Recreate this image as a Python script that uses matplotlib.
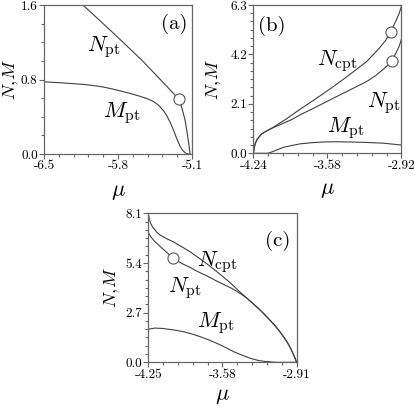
import matplotlib
matplotlib.use('Agg')
import matplotlib.pyplot as plt
from matplotlib.ticker import FixedLocator, FixedFormatter, AutoMinorLocator

plt.rcParams['font.family'] = 'cmr10'
plt.rcParams['mathtext.fontset'] = 'cm'
plt.rcParams['axes.unicode_minus'] = False

# ---------------- data ----------------
# panel (a)
a_xticks = [-6.5, -5.8, -5.1]
a_yticks = [0.0, 0.8, 1.6]
a_N_mu = [-6.20, -6.131, -5.85, -5.576, -5.40, -5.223, -5.20, -5.18, -5.166, -5.15,
          -5.138, -5.128, -5.122, -5.118]
a_N = [1.673, 1.60, 1.305, 1.01, 0.80, 0.588, 0.51, 0.43, 0.365, 0.26,
       0.17, 0.09, 0.04, 0.0]
a_M_mu = [-6.5, -6.3, -6.1, -5.95, -5.86, -5.78, -5.70, -5.592, -5.52, -5.466,
          -5.42, -5.371, -5.34, -5.308, -5.285, -5.261, -5.235, -5.213, -5.19, -5.166,
          -5.15, -5.135, -5.118]
a_M = [0.775, 0.762, 0.745, 0.722, 0.70, 0.678, 0.655, 0.62, 0.593, 0.565,
       0.528, 0.468, 0.415, 0.345, 0.285, 0.215, 0.14, 0.085, 0.042, 0.015,
       0.005, 0.0, 0.0]
a_circ_mu = [-5.223]
a_circ = [0.588]

# panel (b)
b_xticks = [-4.24, -3.58, -2.92]
b_yticks = [0.0, 2.1, 4.2, 6.3]
b_Ncpt_mu = [-4.24, -4.235, -4.225, -4.21, -4.19, -4.167, -4.12, -4.078, -3.95, -3.825,
             -3.68, -3.528, -3.38, -3.23, -3.12, -3.06, -3.016, -2.97, -2.94, -2.92]
b_Ncpt = [0.0, 0.2, 0.4, 0.57, 0.70, 0.82, 0.96, 1.06, 1.45, 1.87,
          2.33, 2.83, 3.35, 3.90, 4.45, 4.80, 5.17, 5.62, 5.95, 6.25]
b_Npt_mu = [-4.24, -4.235, -4.225, -4.21, -4.19, -4.167, -4.12, -4.078, -4.0, -3.9,
            -3.825, -3.68, -3.528, -3.38, -3.23, -3.15, -3.08, -3.04, -3.007, -2.97,
            -2.94, -2.92]
b_Npt = [0.0, 0.2, 0.4, 0.57, 0.70, 0.82, 0.96, 1.06, 1.22, 1.43,
         1.63, 1.97, 2.34, 2.69, 3.05, 3.30, 3.58, 3.75, 3.93, 4.25,
         4.55, 4.85]
b_M_mu = [-4.24, -4.11, -4.08, -4.04, -3.97, -3.9, -3.825, -3.72, -3.617, -3.5,
          -3.379, -3.23, -3.082, -2.92]
b_M = [0.0, 0.0, 0.05, 0.13, 0.255, 0.33, 0.40, 0.45, 0.48, 0.49,
       0.48, 0.46, 0.43, 0.35]
b_circ_mu = [-3.016, -3.007]
b_circ = [5.17, 3.93]

# panel (c)
c_xticks = [-4.25, -3.58, -2.91]
c_yticks = [0.0, 2.7, 5.4, 8.1]
c_Ncpt_mu = [-4.25, -4.24, -4.225, -4.205, -4.17, -4.144, -4.084, -4.024, -3.95, -3.873,
             -3.80, -3.722, -3.65, -3.572, -3.50, -3.452, -3.40, -3.36, -3.33, -3.25,
             -3.2, -3.14, -3.1, -3.06, -3.03, -3.0, -2.98, -2.96, -2.945, -2.93,
             -2.92, -2.91]
c_Ncpt = [8.1, 7.75, 7.5, 7.3, 7.06, 6.92, 6.72, 6.55, 6.29, 6.01,
          5.70, 5.36, 5.02, 4.64, 4.27, 3.99, 3.70, 3.49, 3.33, 2.90,
          2.60, 2.22, 1.95, 1.65, 1.40, 1.13, 0.93, 0.70, 0.50, 0.30,
          0.15, 0.0]
c_Npt_mu = [-4.25, -4.23, -4.2, -4.144, -4.084, -4.024, -3.95, -3.873, -3.80, -3.722,
            -3.65, -3.572, -3.50, -3.452, -3.40, -3.36, -3.33, -3.25,
            -3.2, -3.14, -3.1, -3.06, -3.03, -3.0, -2.98, -2.96, -2.945, -2.93,
            -2.92, -2.91]
c_Npt = [7.05, 6.85, 6.62, 6.30, 5.98, 5.65, 5.38, 5.16, 4.92, 4.70,
         4.47, 4.24, 4.03, 3.86, 3.66, 3.49, 3.33, 2.90,
         2.60, 2.22, 1.95, 1.65, 1.40, 1.13, 0.93, 0.70, 0.50, 0.30,
         0.15, 0.0]
c_M_mu = [-4.25, -4.19, -4.12, -4.0, -3.93, -3.85, -3.78, -3.70, -3.63, -3.55,
          -3.48, -3.40, -3.33, -3.25, -3.2, -3.1, -2.91]
c_M = [1.80, 1.86, 1.84, 1.74, 1.66, 1.53, 1.39, 1.21, 1.03, 0.80,
       0.58, 0.38, 0.22, 0.09, 0.05, 0.0, 0.0]
c_circ_mu = [-4.024]
c_circ = [5.65]

# ---------------- drawing ----------------
LC = '#404040'
SC = '#666666'

fig = plt.figure(figsize=(4.15, 4.08), dpi=100)


def style(ax, xt, yt, xminor, yminor, ylabel_x, xlabel_y):
    ax.set_xlim(xt[0], xt[-1])
    ax.set_ylim(yt[0], yt[-1])
    ax.xaxis.set_major_locator(FixedLocator(xt))
    ax.xaxis.set_major_formatter(FixedFormatter(['%g' % v if abs(v * 10 - round(v * 10)) > 1e-9 else '%.1f' % v for v in xt]))
    ax.yaxis.set_major_locator(FixedLocator(yt))
    ax.yaxis.set_major_formatter(FixedFormatter(['%.1f' % v for v in yt]))
    ax.xaxis.set_minor_locator(AutoMinorLocator(xminor))
    ax.yaxis.set_minor_locator(AutoMinorLocator(yminor))
    ax.tick_params(which='both', direction='out', color=SC, width=0.8,
                   labelsize=9.5, pad=1.0, top=False, right=False)
    ax.tick_params(which='major', length=3.5)
    ax.tick_params(which='minor', length=2.0)
    for s in ax.spines.values():
        s.set_color(SC)
        s.set_linewidth(0.9)
    ax.set_ylabel(r'$N,\!M$', fontsize=13)
    ax.set_xlabel(r'$\mu$', fontsize=16)
    ax.yaxis.set_label_coords(ylabel_x, 0.5)
    ax.xaxis.set_label_coords(0.5, xlabel_y)


def circ(ax, x, y):
    ax.plot(x, y, 'o', ms=8, mfc='white', mec='#555555', mew=0.8, zorder=5, clip_on=False)


# panel (a)
axa = fig.add_axes([0.106, 0.6225, 0.3566, 0.3652])
axa.plot(a_N_mu, a_N, color=LC, lw=0.8)
axa.plot(a_M_mu, a_M, color=LC, lw=0.8)
circ(axa, a_circ_mu, a_circ)
style(axa, a_xticks, a_yticks, 5, 4, -0.155, -0.19)
axa.text(0.878, 0.872, '(a)', transform=axa.transAxes, fontsize=15, ha='center', va='center')
axa.text(0.29, 0.718, r'$N_{\rm pt}$', transform=axa.transAxes, fontsize=16, ha='left', va='center')
axa.text(0.40, 0.275, r'$M_{\rm pt}$', transform=axa.transAxes, fontsize=16, ha='left', va='center')

# panel (b)
axb = fig.add_axes([0.6108, 0.6243, 0.3566, 0.3635])
axb.plot(b_Ncpt_mu, b_Ncpt, color=LC, lw=0.8)
axb.plot(b_Npt_mu, b_Npt, color=LC, lw=0.8)
axb.plot(b_M_mu, b_M, color=LC, lw=0.8)
circ(axb, b_circ_mu, b_circ)
style(axb, b_xticks, b_yticks, 5, 6, -0.2, -0.185)
axb.text(0.125, 0.858, '(b)', transform=axb.transAxes, fontsize=15, ha='center', va='center')
axb.text(0.429, 0.622, r'$N_{\rm cpt}$', transform=axb.transAxes, fontsize=16, ha='left', va='center')
axb.text(0.767, 0.339, r'$N_{\rm pt}$', transform=axb.transAxes, fontsize=16, ha='left', va='center')
axb.text(0.497, 0.17, r'$M_{\rm pt}$', transform=axb.transAxes, fontsize=16, ha='left', va='center')

# panel (c)
axc = fig.add_axes([0.3573, 0.112, 0.3576, 0.3652])
axc.plot(c_Ncpt_mu, c_Ncpt, color=LC, lw=0.8)
axc.plot(c_Npt_mu, c_Npt, color=LC, lw=0.8)
axc.plot(c_M_mu, c_M, color=LC, lw=0.8)
circ(axc, c_circ_mu, c_circ)
style(axc, c_xticks, c_yticks, 5, 6, -0.175, -0.16)
axc.text(0.871, 0.814, '(c)', transform=axc.transAxes, fontsize=15, ha='center', va='center')
axc.text(0.328, 0.673, r'$N_{\rm cpt}$', transform=axc.transAxes, fontsize=16, ha='left', va='center')
axc.text(0.134, 0.499, r'$N_{\rm pt}$', transform=axc.transAxes, fontsize=16, ha='left', va='center')
axc.text(0.328, 0.264, r'$M_{\rm pt}$', transform=axc.transAxes, fontsize=16, ha='left', va='center')

fig.savefig('out.png', dpi=100)
